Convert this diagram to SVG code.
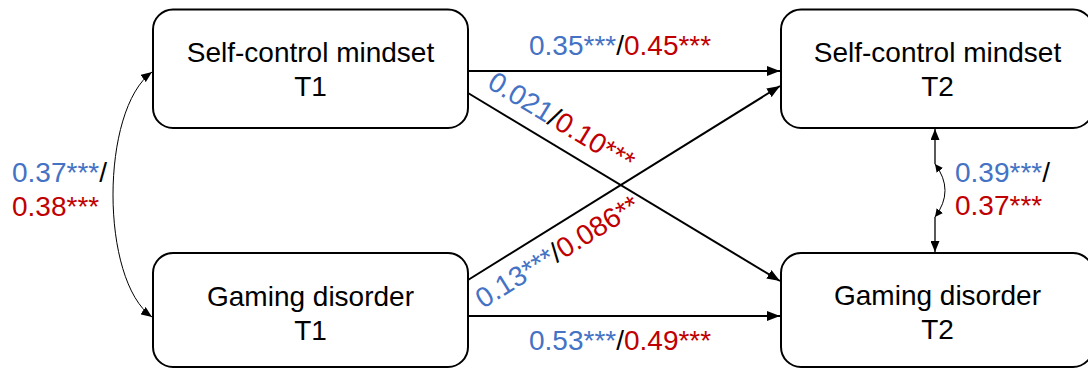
<svg xmlns="http://www.w3.org/2000/svg" width="1088" height="369" viewBox="0 0 1088 369">
<style>
.box{fill:#fff;stroke:#000;stroke-width:2}
.t{font-family:"Liberation Sans",Arial,sans-serif;font-size:28px;fill:#000}
.b{fill:#4472C4}
.r{fill:#C00000}
.k{fill:#000}
.ln{stroke:#000;stroke-width:2;fill:none}
.thin{stroke:#000;stroke-width:1;fill:none}
.mid{stroke:#000;stroke-width:1.3;fill:none}
</style>
<defs>
<marker id="ah" markerUnits="userSpaceOnUse" markerWidth="13" markerHeight="10" refX="13" refY="5" orient="auto-start-reverse" viewBox="0 0 13 10">
<path d="M0,0 L13,5 L0,10 z" fill="#000"/>
</marker>
<marker id="ahs" markerUnits="userSpaceOnUse" markerWidth="11" markerHeight="9" refX="11" refY="4.5" orient="auto-start-reverse" viewBox="0 0 11 9">
<path d="M0,0 L11,4.5 L0,9 z" fill="#000"/>
</marker>
<marker id="aht" markerUnits="userSpaceOnUse" markerWidth="8" markerHeight="8" refX="8" refY="4" orient="auto-start-reverse" viewBox="0 0 8 8">
<path d="M0,0 L8,4 L0,8 z" fill="#000"/>
</marker>
</defs>
<g id="connectors">
<line class="ln" x1="468" y1="71" x2="780" y2="71" marker-end="url(#ah)"/>
<line class="ln" x1="468" y1="316" x2="780" y2="316" marker-end="url(#ah)"/>
<line class="ln" x1="468" y1="93" x2="780" y2="281" marker-end="url(#ah)"/>
<line class="ln" x1="468" y1="280" x2="780" y2="86" marker-end="url(#ah)"/>
<path class="thin" d="M152,72 C100,110 100,280 152,317" marker-start="url(#ahs)" marker-end="url(#ahs)"/>
<line class="mid" x1="935" y1="164" x2="935" y2="129" marker-end="url(#ahs)"/>
<line class="mid" x1="935" y1="217" x2="935" y2="252" marker-end="url(#ahs)"/>
<path class="thin" d="M935,164 Q955,190.5 935,217" marker-start="url(#aht)" marker-end="url(#aht)"/>
</g>
<g id="n_scm_t1">
<rect class="box" x="153" y="9.5" width="315" height="118.5" rx="20"/>
<text class="t" x="310.5" y="62" text-anchor="middle">Self-control mindset</text>
<text class="t" x="310.5" y="96" text-anchor="middle">T1</text>
</g>
<g id="n_gd_t1">
<rect class="box" x="153" y="253" width="315" height="114" rx="20"/>
<text class="t" x="310.5" y="306" text-anchor="middle">Gaming disorder</text>
<text class="t" x="310.5" y="340" text-anchor="middle">T1</text>
</g>
<g id="n_scm_t2">
<rect class="box" x="781" y="9.5" width="312" height="118.5" rx="20"/>
<text class="t" x="937.5" y="62" text-anchor="middle">Self-control mindset</text>
<text class="t" x="937.5" y="96" text-anchor="middle">T2</text>
</g>
<g id="n_gd_t2">
<rect class="box" x="781" y="253" width="312" height="114" rx="20"/>
<text class="t" x="937.5" y="305" text-anchor="middle">Gaming disorder</text>
<text class="t" x="937.5" y="339" text-anchor="middle">T2</text>
</g>
<g id="labels">
<text class="t" x="529" y="55"><tspan class="b">0.35***</tspan><tspan class="k">/</tspan><tspan class="r">0.45***</tspan></text>
<text class="t" x="529" y="350"><tspan class="b">0.53***</tspan><tspan class="k">/</tspan><tspan class="r">0.49***</tspan></text>
<text class="t" transform="translate(486,87) rotate(31.1)"><tspan class="b">0.021</tspan><tspan class="k">/</tspan><tspan class="r">0.10***</tspan></text>
<text class="t" transform="translate(483,309) rotate(-31.8)"><tspan class="b">0.13***</tspan><tspan class="k">/</tspan><tspan class="r">0.086**</tspan></text>
<text class="t" x="12" y="182"><tspan class="b">0.37***</tspan><tspan class="k">/</tspan></text>
<text class="t" x="12" y="216"><tspan class="r">0.38***</tspan></text>
<text class="t" x="955" y="182"><tspan class="b">0.39***</tspan><tspan class="k">/</tspan></text>
<text class="t" x="955" y="215"><tspan class="r">0.37***</tspan></text>
</g>
</svg>
